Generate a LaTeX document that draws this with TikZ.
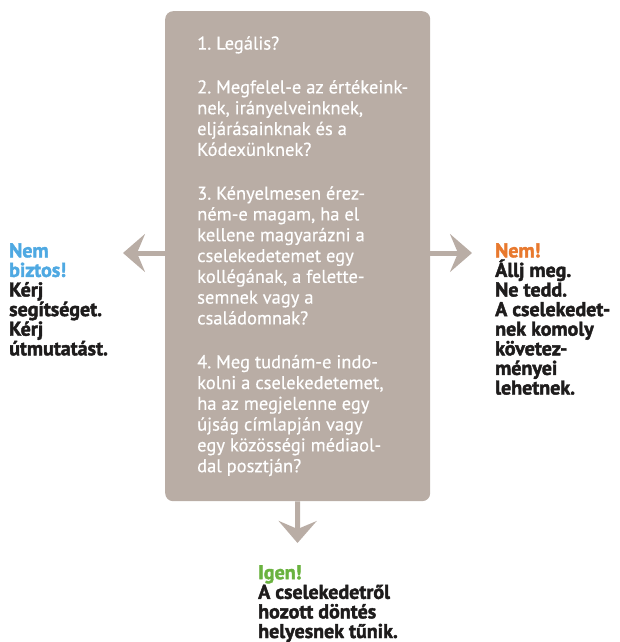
\documentclass[tikz,border=0pt]{standalone}
\usepackage{fontspec}
\setmainfont{PT Sans}
\newfontfamily\heavyfont[BoldFeatures={FakeBold=2}]{PT Sans}
\newfontfamily\boxfont[FakeBold=0.5]{PT Sans}
\usetikzlibrary{arrows.meta,positioning}
\frenchspacing

\definecolor{boxgray}{HTML}{B9ADA5}
\definecolor{unsureblue}{HTML}{4FA9E2}
\definecolor{noorange}{HTML}{E8792E}
\definecolor{yesgreen}{HTML}{6AB23F}
\definecolor{darktext}{HTML}{1E1C1C}

\newcommand\answerfont{\heavyfont\bfseries\fontsize{20}{19.6}\selectfont\lineskiplimit=-10pt\relax}

\tikzset{
  questionbox/.style={fill=boxgray, rounded corners=8pt, anchor=north west,
    minimum width=265pt, minimum height=490pt},
  questiontext/.style={anchor=west, inner sep=0pt, align=left, text=white,
    font=\boxfont\fontsize{18.5}{20.8}\selectfont},
  answer/.style={anchor=north west, inner sep=0pt, align=left, text=darktext,
    font=\answerfont},
  flowarrow/.style={line width=5pt, draw=boxgray,
    -{Stealth[length=22pt,width=38pt,inset=8pt]}}
}

\begin{document}
\begin{tikzpicture}[x=1pt,y=-1pt]
    \useasboundingbox (0,0) rectangle (620,642);
    % the four questions
    \node[questionbox] (questions) at (165,11) {};
    \node[questiontext] (questionlist) at ([xshift=32pt]questions.west) {1. Legális?\\[23pt]
      2. Megfelel-e az értékeink-\\nek, irányelveinknek,\\eljárásainknak és a\\Kódexünknek?\\[23pt]
      3. Kényelmesen érez-\\ném-e magam, ha el\\kellene magyarázni a\\cselekedetemet egy\\kollégának, a felette-\\semnek vagy a\\családomnak?\\[23pt]
      4. Meg tudnám-e indo-\\kolni a cselekedetemet,\\ha az megjelenne egy\\újság címlapján vagy\\egy közösségi médiaol-\\dal posztján?};
    \node[answer] (unsure) at (9,243) {\textcolor{unsureblue}{Nem}\\\textcolor{unsureblue}{biztos!}\\Kérj\\segítséget.\\Kérj\\útmutatást.};
    \node[answer] (no) at (495,243) {\textcolor{noorange}{Nem!}\\Állj meg.\\Ne tedd.\\A cselekedet-\\nek komoly\\követez-\\ményei\\lehetnek.};
    \node[answer] (yes) at (258,565) {\textcolor{yesgreen}{Igen!}\\A cselekedetről\\hozott döntés\\helyesnek tűnik.};
    \coordinate (unsuretip) at (123,253);
    \coordinate (notip) at (472,253);
    \coordinate (yestip) at (297.5,543);
    \draw[flowarrow] (questions.west |- unsuretip) -- (unsuretip);
    \draw[flowarrow] (questions.east |- notip) -- (notip);
    \draw[flowarrow] (questions.south) -- (yestip);
\end{tikzpicture}
\end{document}
